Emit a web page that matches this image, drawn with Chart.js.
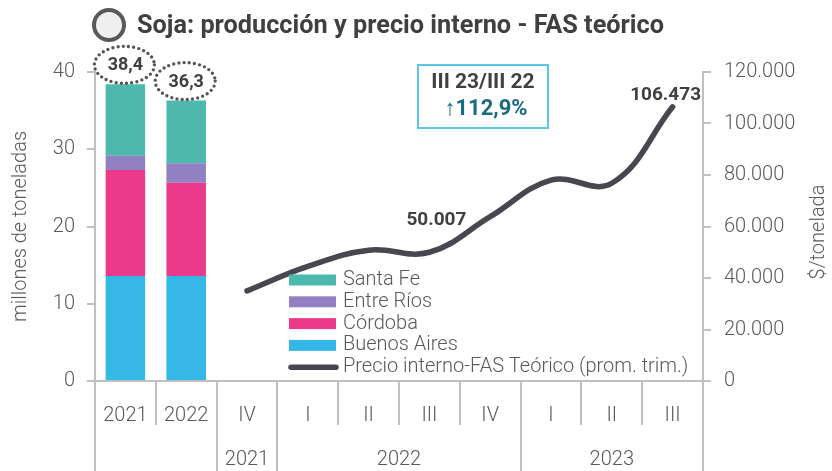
<!DOCTYPE html>
<html>
<head>
<meta charset="utf-8">
<script src="https://cdn.jsdelivr.net/npm/chart.js@4.4.0/dist/chart.umd.min.js"></script>
<style>
html,body{margin:0;padding:0;background:#ffffff;}
#c{display:block;}
</style>
</head>
<body>
<canvas id="c" width="832" height="471"></canvas>
<script>
// ---------- data ----------
const titleText = 'Soja: producción y precio interno - FAS teórico';
const categories = ['2021', '2022', 'IV', 'I', 'II', 'III', 'IV', 'I', 'II', 'III'];
const periodGroups = ['', '2021', '2022', '2023'];
const periodGroupSizes = [2, 1, 4, 3];
const buenosAires = [13.6, 13.6, null, null, null, null, null, null, null, null];
const cordoba     = [13.7, 12.05, null, null, null, null, null, null, null, null];
const entreRios   = [1.85, 2.55, null, null, null, null, null, null, null, null];
const santaFe     = [9.25, 8.1, null, null, null, null, null, null, null, null];
const fasPrice    = [null, null, 35000, 44500, 50800, 50007, 63800, 78000, 76800, 106473];
const labelledPricePoints = [5, 9];
const leftAxisTitle = 'millones de toneladas';
const rightAxisTitle = '$/tonelada';
const lineLabel = 'Precio interno-FAS Teórico (prom. trim.)';
const comparisonText = ['III 23/III 22', '\u2191112,9%'];

// ---------- helpers ----------
const FONT = 'Roboto, "Noto Sans", sans-serif';
const GRAY = '#595959';
const DARK = '#404040';
const AXIS = '#bfbfbf';
const fmtThousands = v => String(Math.round(v)).replace(/\B(?=(\d{3})+(?!\d))/g, '.');
const fmtDecimal = v => v.toFixed(1).replace('.', ',');

const decor = {
  id: 'decor',
  afterDraw(chart) {
    const {ctx, chartArea: a, scales: {x, y}} = chart;
    const n = categories.length;
    const cw = (a.right - a.left) / n;
    ctx.save();

    // category separators
    const groupEdges = new Set([0]);
    let acc = 0;
    periodGroupSizes.forEach(s => { acc += s; groupEdges.add(acc); });
    ctx.strokeStyle = AXIS;
    ctx.lineWidth = 2;
    for (let i = 0; i <= n; i++) {
      const xb = Math.round(a.left + i * cw);
      const full = groupEdges.has(i);
      ctx.beginPath();
      ctx.moveTo(xb, a.bottom);
      ctx.lineTo(xb, full ? chart.height : a.bottom + 44);
      ctx.stroke();
    }

    // group labels
    ctx.fillStyle = GRAY;
    ctx.font = '300 20px ' + FONT;
    ctx.textAlign = 'center';
    ctx.textBaseline = 'middle';
    let start = 0;
    periodGroups.forEach((g, k) => {
      const size = periodGroupSizes[k];
      const cx = a.left + (start + size / 2) * cw;
      if (g) ctx.fillText(g, cx, a.bottom + 79);
      start += size;
    });

    // totals with dotted ellipses
    ctx.setLineDash([0, 5.2]);
    ctx.lineCap = 'round';
    for (let i = 0; i < n; i++) {
      if (buenosAires[i] == null) continue;
      const tot = buenosAires[i] + cordoba[i] + entreRios[i] + santaFe[i];
      const cx = x.getPixelForValue(i) - 1;
      const cy = y.getPixelForValue(tot) - 19.5;
      ctx.strokeStyle = '#555555';
      ctx.lineWidth = 3.4;
      ctx.beginPath();
      ctx.ellipse(cx, cy, 30, 18.5, 0, 0, Math.PI * 2);
      ctx.stroke();
      ctx.fillStyle = DARK;
      ctx.font = 'bold 18px ' + FONT;
      ctx.fillText(fmtDecimal(tot), cx + 1, cy + 1);
    }
    ctx.setLineDash([]);

    // price labels
    const meta = chart.getDatasetMeta(0);
    const offsets = {5: [7, -32], 9: [-7, -12]};
    ctx.fillStyle = DARK;
    ctx.font = 'bold 19px ' + FONT;
    labelledPricePoints.forEach(idx => {
      const pt = meta.data[idx];
      const off = offsets[idx] || [0, -20];
      ctx.fillText(fmtThousands(fasPrice[idx]), pt.x + off[0], pt.y + off[1]);
    });

    // comparison box
    ctx.strokeStyle = '#5cc6ea';
    ctx.lineWidth = 2;
    ctx.strokeRect(418, 65, 130, 63);
    ctx.fillStyle = DARK;
    ctx.font = 'bold 21px ' + FONT;
    ctx.fillText(comparisonText[0], 483, 83, 110);
    ctx.fillStyle = '#1c6a80';
    ctx.font = 'bold 22px ' + FONT;
    ctx.fillText(comparisonText[1], 486, 109, 90);

    // right axis title (reads bottom to top)
    ctx.save();
    ctx.translate(819, 232);
    ctx.rotate(-Math.PI / 2);
    ctx.fillStyle = GRAY;
    ctx.font = '300 20px ' + FONT;
    ctx.fillText(rightAxisTitle, 0, 0);
    ctx.restore();

    // legend
    const items = [
      {label: 'Santa Fe', color: chart.data.datasets[4].backgroundColor},
      {label: 'Entre Ríos', color: chart.data.datasets[3].backgroundColor},
      {label: 'Córdoba', color: chart.data.datasets[2].backgroundColor},
      {label: 'Buenos Aires', color: chart.data.datasets[1].backgroundColor},
      {label: lineLabel, color: chart.data.datasets[0].borderColor, line: true}
    ];
    ctx.font = '300 20px ' + FONT;
    const sx = Math.min(1, 350 / ctx.measureText(lineLabel).width);
    ctx.textAlign = 'left';
    items.forEach((it, k) => {
      const yy = 280 + k * 21.8;
      if (it.line) {
        ctx.strokeStyle = it.color;
        ctx.lineWidth = 5.5;
        ctx.lineCap = 'round';
        ctx.beginPath();
        ctx.moveTo(291, yy);
        ctx.lineTo(336, yy);
        ctx.stroke();
      } else {
        ctx.fillStyle = it.color;
        ctx.fillRect(289, yy - 5.5, 47, 11);
      }
      ctx.fillStyle = GRAY;
      ctx.save();
      ctx.translate(343, yy);
      ctx.scale(sx, 1);
      ctx.fillText(it.label, 0, 0);
      ctx.restore();
    });

    // title with circle icon
    ctx.beginPath();
    ctx.arc(109, 25, 15, 0, Math.PI * 2);
    ctx.fillStyle = '#efefef';
    ctx.fill();
    ctx.strokeStyle = GRAY;
    ctx.lineWidth = 4;
    ctx.stroke();
    ctx.fillStyle = DARK;
    ctx.font = 'bold 26px ' + FONT;
    ctx.textAlign = 'left';
    ctx.fillText(titleText, 137, 26, 527);

    ctx.restore();
  }
};

const chart = new Chart(document.getElementById('c'), {
  type: 'bar',
  data: {
    labels: categories,
    datasets: [
      {type: 'line', label: lineLabel, data: fasPrice, yAxisID: 'y2', borderColor: '#46474f',
       borderWidth: 5.5, tension: 0.4, pointRadius: 0, borderCapStyle: 'round', order: 0},
      {label: 'Buenos Aires', data: buenosAires, backgroundColor: '#35b7e7', yAxisID: 'y', order: 1},
      {label: 'Córdoba', data: cordoba, backgroundColor: '#ec3a8b', yAxisID: 'y', order: 1},
      {label: 'Entre Ríos', data: entreRios, backgroundColor: '#9181c2', yAxisID: 'y', order: 1},
      {label: 'Santa Fe', data: santaFe, backgroundColor: '#4db8ae', yAxisID: 'y', order: 1}
    ]
  },
  options: {
    responsive: false,
    animation: false,
    devicePixelRatio: 1,
    layout: {padding: {top: 72, left: 0, right: 0, bottom: 0}},
    plugins: {legend: {display: false}, tooltip: {enabled: false}},
    datasets: {bar: {barPercentage: 0.65, categoryPercentage: 1}},
    scales: {
      x: {
        stacked: true,
        grid: {display: false, drawTicks: false},
        border: {display: true, color: AXIS, width: 2},
        ticks: {color: GRAY, font: {family: FONT, size: 20, weight: '300'}, padding: 23, maxRotation: 0, autoSkip: false},
        afterFit(s) { s.height = 90; }
      },
      y: {
        position: 'left',
        stacked: true,
        min: 0, max: 40,
        ticks: {stepSize: 10, color: GRAY, font: {family: FONT, size: 20, weight: '300'}, padding: 12},
        grid: {drawOnChartArea: false, drawTicks: true, tickLength: 8, color: AXIS, lineWidth: 2},
        border: {display: true, color: AXIS, width: 2},
        title: {display: true, text: leftAxisTitle, color: GRAY, font: {family: FONT, size: 20, weight: '300'}, padding: {top: 9, bottom: 0}},
        afterFit(s) { s.width = 95; }
      },
      y2: {
        position: 'right',
        min: 0, max: 120000,
        ticks: {stepSize: 20000, color: GRAY, font: {family: FONT, size: 20, weight: '300'}, padding: 13,
                callback: v => fmtThousands(v)},
        grid: {drawOnChartArea: false, drawTicks: true, tickLength: 8, color: AXIS, lineWidth: 2},
        border: {display: true, color: AXIS, width: 2},
        afterFit(s) { s.width = 129; }
      }
    }
  },
  plugins: [decor]
});
</script>
</body>
</html>
